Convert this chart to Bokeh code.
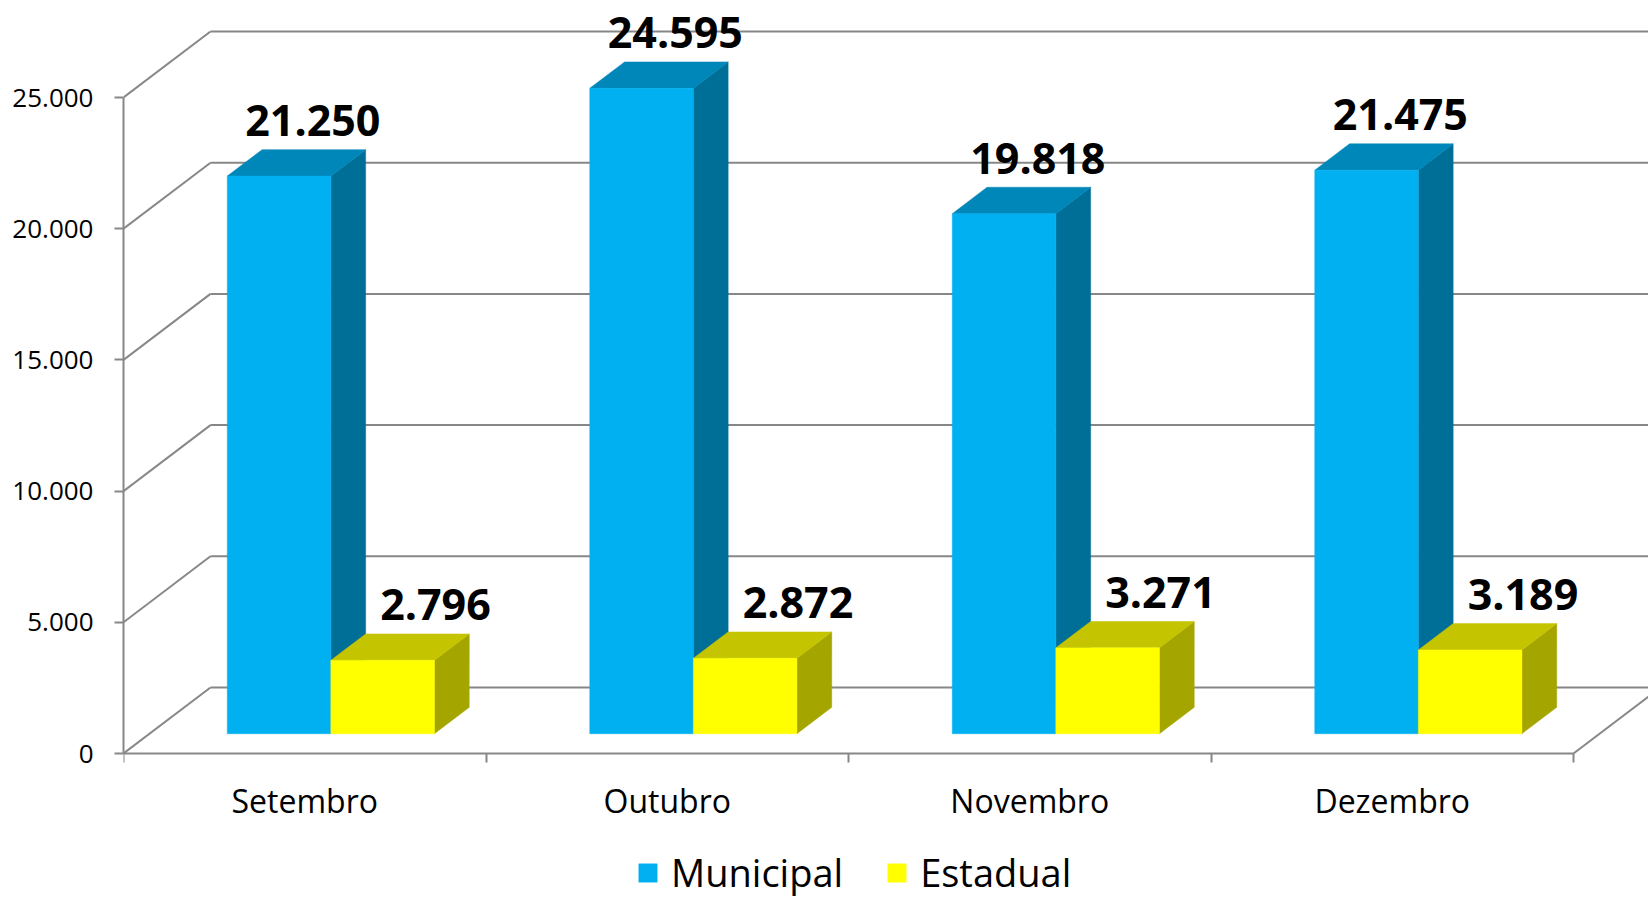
from bokeh.plotting import figure
from bokeh.models import Range1d, FixedTicker, Legend, LegendItem
from bokeh.core.properties import value
from bokeh.embed import file_html
from bokeh.resources import INLINE

# ---------------- data ----------------
months = ["Setembro", "Outubro", "Novembro", "Dezembro"]
municipal = [21250, 24595, 19818, 21475]
estadual = [2796, 2872, 3271, 3189]
series_names = ["Municipal", "Estadual"]
y_ticks = [0, 5000, 10000, 15000, 20000, 25000]

# ---------------- style ----------------
W, H = 1648, 898
LEFT = 123              # frame left edge (front vertical axis)
BASE_Y = 753            # page y of the value 0 on the front plane
CAT_PX = 362.5          # pixels per category
PX_PER_UNIT = 0.02624   # pixels per value unit
WALL_DX_PX, WALL_DY_PX = 87, 66
BAR_SHIFT = 0.30        # bars set back into the depth (fraction of wall depth)
BAR_DEPTH = 0.40        # bar depth (fraction of wall depth)
GAP = 1.5               # gap width (in bar widths)
GRID = "#878787"
FRONT = ["#00B0F0", "#FFFF00"]
TOP = ["#0087B9", "#C4C400"]
SIDE = ["#006F98", "#A5A500"]
LABEL_DX = [-1, 18]
FONT = "Open Sans"


def fmt(v):
    return f"{v:,}".replace(",", ".")


frame_w = W - LEFT
x_end = frame_w / CAT_PX
y_start = -(H - BASE_Y) / PX_PER_UNIT
y_end = BASE_Y / PX_PER_UNIT
wdx = WALL_DX_PX / CAT_PX
wdy = WALL_DY_PX / PX_PER_UNIT
n = len(months)

p = figure(width=W, height=H, output_backend="svg", toolbar_location=None,
           x_range=Range1d(0, x_end), y_range=Range1d(y_start, y_end),
           min_border_left=LEFT, min_border_bottom=0,
           min_border_top=0, min_border_right=0)
p.outline_line_color = None
p.xgrid.visible = False
p.ygrid.visible = False
p.background_fill_color = "white"
p.border_fill_color = "white"

# ---------------- walls ----------------
top_tick = y_ticks[-1]
p.segment(x0=[0] * len(y_ticks), y0=y_ticks,
          x1=[wdx] * len(y_ticks), y1=[v + wdy for v in y_ticks],
          line_color=GRID, line_width=2)
p.segment(x0=[wdx] * len(y_ticks), y0=[v + wdy for v in y_ticks],
          x1=[n + wdx] * len(y_ticks), y1=[v + wdy for v in y_ticks],
          line_color=GRID, line_width=2)
p.segment(x0=[n], y0=[0], x1=[n + wdx], y1=[wdy], line_color=GRID, line_width=2)

# ---------------- bars ----------------
bw = 1.0 / (len(series_names) + GAP)
start = GAP * bw / 2
sx, sy = BAR_SHIFT * wdx, BAR_SHIFT * wdy
dx, dy = BAR_DEPTH * wdx, BAR_DEPTH * wdy

legend_items = []
for s, vals in enumerate([municipal, estadual]):
    L, R, B, T = [], [], [], []
    txs, tys, sxs, sys_ = [], [], [], []
    lx, ly, lt = [], [], []
    for i, v in enumerate(vals):
        l = i + start + s * bw + sx
        r = l + bw
        b = sy
        t = sy + v
        L.append(l); R.append(r); B.append(b); T.append(t)
        txs.append([l, r, r + dx, l + dx]); tys.append([t, t, t + dy, t + dy])
        sxs.append([r, r + dx, r + dx, r]); sys_.append([b, b + dy, t + dy, t])
        lx.append((l + r) / 2 + dx); ly.append(t + dy); lt.append(fmt(v))
    p.patches(xs=sxs, ys=sys_, fill_color=SIDE[s], line_color=SIDE[s], line_width=0.5)
    p.patches(xs=txs, ys=tys, fill_color=TOP[s], line_color=TOP[s], line_width=0.5)
    fr = p.quad(left=L, right=R, bottom=B, top=T, fill_color=FRONT[s],
                line_color=FRONT[s], line_width=0.5)
    legend_items.append(LegendItem(label=series_names[s], renderers=[fr]))
    p.text(x=lx, y=ly, text=lt, text_font=value(FONT), text_font_style="bold",
           text_font_size="43px", text_align="center", text_baseline="alphabetic",
           x_offset=LABEL_DX[s], y_offset=-29, text_color="black")

# ---------------- axes ----------------
ya = p.yaxis[0]
ya.ticker = FixedTicker(ticks=y_ticks, minor_ticks=[])
ya.major_label_overrides = {v: fmt(v) for v in y_ticks}
ya.bounds = (0, top_tick)
ya.axis_line_color = GRID
ya.axis_line_width = 2
ya.major_tick_line_color = GRID
ya.major_tick_line_width = 2
ya.major_tick_out = 9
ya.major_tick_in = 0
ya.minor_tick_line_color = None
ya.major_label_standoff = 21
ya.major_label_text_font = FONT
ya.major_label_text_font_size = "26px"
ya.major_label_text_color = "black"

xa = p.xaxis[0]
xa.fixed_location = 0
xa.ticker = FixedTicker(ticks=[i + 0.5 for i in range(n)], minor_ticks=list(range(n + 1)))
xa.major_label_overrides = {i + 0.5: m for i, m in enumerate(months)}
xa.bounds = (0, n)
xa.axis_line_color = GRID
xa.axis_line_width = 2
xa.major_tick_line_color = None
xa.major_tick_out = 0
xa.major_tick_in = 0
xa.minor_tick_line_color = GRID
xa.minor_tick_line_width = 2
xa.minor_tick_out = 9
xa.minor_tick_in = 0
xa.major_label_standoff = 16
xa.major_label_text_font = FONT
xa.major_label_text_font_size = "32px"
xa.major_label_text_color = "black"

# ---------------- legend ----------------
legend = Legend(items=legend_items, orientation="horizontal", location=(513, 0),
                glyph_width=23, glyph_height=23, label_height=23, label_standoff=12,
                spacing=42, padding=0, margin=0, border_line_color=None,
                background_fill_alpha=0, label_text_font=FONT,
                label_text_font_size="38px", label_text_color="black",
                label_text_baseline="middle")
p.add_layout(legend)

open("out.html", "w").write(file_html(p, INLINE))
